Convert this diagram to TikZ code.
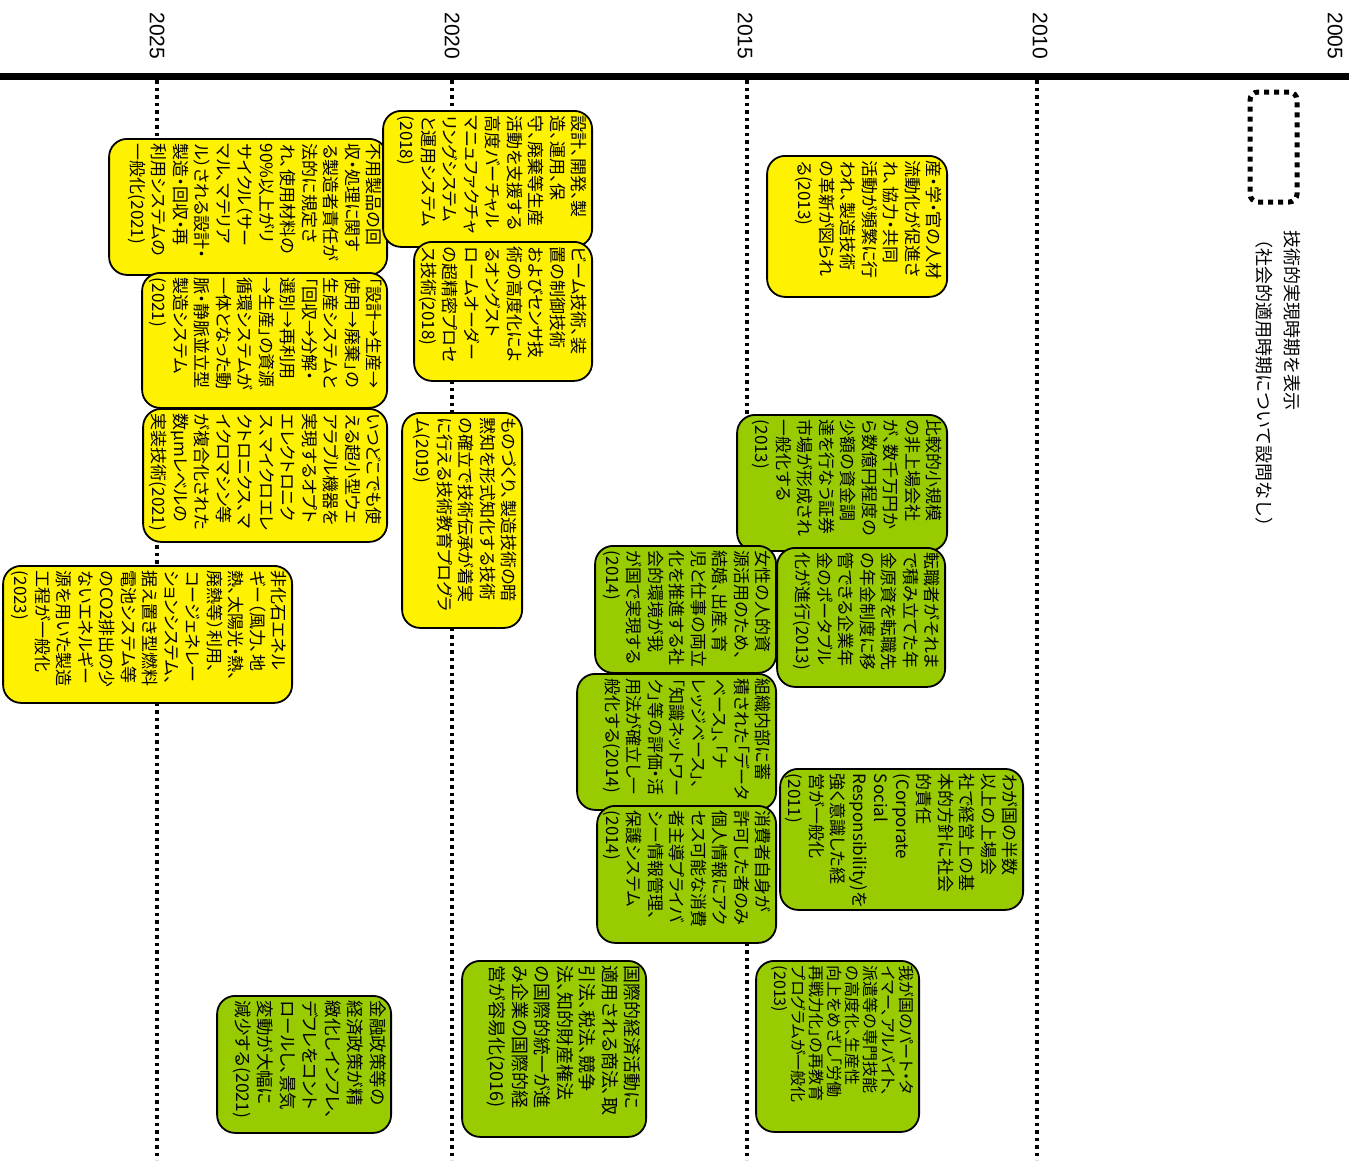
\documentclass[tikz,border=0pt]{standalone}
\usepackage{fontspec}
\newfontfamily\jp[RawFeature=+palt]{Noto Sans CJK JP}
\newfontfamily\jpw{Noto Sans CJK JP}
\newfontfamily\yrfont{Liberation Sans}
\definecolor{grn}{HTML}{99CC00}
\newcommand\mybox[7]{%
  \pgfmathsetmacro\mbW{#5-#3-11}%
  \pgfmathsetmacro\mbH{#6-#4-11}%
  \node[#2, anchor=north west] (#1) at (#5,#4)
    {\begin{minipage}[c][\mbW pt][t]{\mbH pt}\raggedright #7\end{minipage}};}
\begin{document}
\begin{tikzpicture}[x=1pt,y=-1pt,
  tbase/.style={draw=black, line width=1.8pt, rounded corners=18pt, rotate=-90,
    inner sep=5pt, font=\jp\fontsize{17}{21.5}\selectfont},
  ybox/.style={tbase, fill=yellow},
  gbox/.style={tbase, fill=grn},
  yearlbl/.style={rotate=-90, font=\yrfont\fontsize{21}{24}\selectfont, inner sep=0pt},
  yearline/.style={line width=3.5pt, dash pattern=on 3.5pt off 4pt},
  legendbox/.style={draw=black, line width=5pt, dash pattern=on 5pt off 5pt, rounded corners=8pt},
  legendtext/.style={rotate=-90, align=left, inner sep=0pt, font=\jpw\fontsize{18}{28}\selectfont}]
\useasboundingbox (0,0) rectangle (1349,1160);
\fill[white] (0,0) rectangle (1349,1160);

% timeline
\coordinate (tl0) at (0,76);
\coordinate (tl1) at (1349,76);
\draw[line width=7pt] (tl0) -- (tl1);

% year labels
\node[yearlbl] (y2025) at (157,36) {2025};
\node[yearlbl] (y2020) at (452,36) {2020};
\node[yearlbl] (y2015) at (745,36) {2015};
\node[yearlbl] (y2010) at (1040,36) {2010};
\node[yearlbl] (y2005) at (1335,36) {2005};

% dotted year lines
\coordinate (d25a) at (157,80);  \coordinate (d25b) at (157,1160);
\coordinate (d20a) at (452,80);  \coordinate (d20b) at (452,1160);
\coordinate (d15a) at (747,80);  \coordinate (d15b) at (747,1160);
\coordinate (d10a) at (1037,80); \coordinate (d10b) at (1037,1160);
\draw[yearline] (d25a) -- (d25b);
\draw[yearline] (d20a) -- (d20b);
\draw[yearline] (d15a) -- (d15b);
\draw[yearline] (d10a) -- (d10b);

% legend
\node[legendbox, minimum width=47pt, minimum height=110pt] (leg) at (1273.5,147) {};
\node[legendtext, anchor=north west] (legt) at (1301,230)
  {技術的実現時期を表示\\（社会的適用時期について設問なし）};

% yellow boxes
\mybox{yc}{ybox}{109}{138}{388}{275}{不用製品の回\\収・処理に関す\\る製造者責任が\\法的に規定さ\\れ、使用材料の\\90\%以上がリ\\サイクル（サー\\マル、マテリア\\ル）される設計・\\製造・回収・再\\利用システムの\\一般化(2021)}
\mybox{yd}{ybox}{142}{272}{388}{408}{「設計→生産→\\使用→廃棄」の\\生産システムと\\「回収→分解・\\選別→再利用\\→生産」の資源\\循環システムが\\一体となった動\\脈・静脈並立型\\製造システム\\(2021)}
\mybox{ye}{ybox}{143}{408}{388}{542}{いつどこでも使\\える超小型ウェ\\アラブル機器を\\実現するオプト\\エレクトロニク\\ス、マイクロエレ\\クトロニクス、マ\\イクロマシン等\\が複合化された\\数μmレベルの\\実装技術(2021)}
\mybox{ya}{ybox}{383}{110}{593}{247}{設計、開発、製\\造、運用、保\\守、廃棄等生産\\活動を支援する\\高度バーチャル\\マニュファクチャ\\リングシステム\\と運用システム\\(2018)}
\mybox{yb}{ybox}{414}{241}{593}{381}{ビーム技術、装\\置の制御技術\\およびセンサ技\\術の高度化によ\\るオングスト\\ロームオーダー\\の超精密プロセ\\ス技術(2018)}
\mybox{yf}{ybox}{402}{412}{523}{628}{ものづくり、製造技術の暗\\黙知を形式知化する技術\\の確立で技術伝承が着実\\に行える技術教育プログラ\\ム(2019)}
\mybox{yg}{ybox}{3}{565}{293}{703}{非化石エネル\\ギー（風力、地\\熱、太陽光・熱、\\廃熱等）利用、\\コージェネレー\\ションシステム、\\据え置き型燃料\\電池システム等\\のCO2排出の少\\ないエネルギー\\源を用いた製造\\工程が一般化\\(2023)}
\mybox{yh}{ybox}{767}{155}{948}{297}{産・学・官の人材\\流動化が促進さ\\れ、協力・共同\\活動が頻繁に行\\われ、製造技術\\の革新が図られ\\る(2013)}

% green boxes
\mybox{ga}{gbox}{737}{414}{948}{551}{比較的小規模\\の非上場会社\\が、数千万円か\\ら数億円程度の\\少額の資金調\\達を行なう証券\\市場が形成され\\一般化する\\(2013)}
\mybox{gb}{gbox}{777}{547}{946}{687}{転職者がそれま\\で積み立てた年\\金原資を転職先\\の年金制度に移\\管できる企業年\\金のポータブル\\化が進行(2013)}
\mybox{gc}{gbox}{595}{545}{777}{673}{女性の人的資\\源活用のため、\\結婚、出産、育\\児と仕事の両立\\化を推進する社\\会的環境が我\\が国で実現する\\(2014)}
\mybox{gd}{gbox}{577}{673}{777}{810}{組織内部に蓄\\積された「データ\\ベース」、「ナ\\レッジベース」、\\「知識ネットワー\\ク」等の評価・活\\用法が確立し一\\般化する(2014)}
\mybox{ge}{gbox}{597}{805}{777}{943}{消費者自身が\\許可した者のみ\\個人情報にアク\\セス可能な消費\\者主導プライバ\\シー情報管理、\\保護システム\\(2014)}
\mybox{gf}{gbox}{780}{768}{1024}{910}{わが国の半数\\以上の上場会\\社で経営上の基\\本的方針に社会\\的責任\\(Corporate\\Social\\Responsibility)を\\強く意識した経\\営が一般化\\(2011)}
\mybox{gg}{gbox, font=\jp\fontsize{18}{22.5}\selectfont}{462}{960}{647}{1137}{国際的経済活動に\\適用される商法、取\\引法、税法、競争\\法、知的財産権法\\の国際的統一が進\\み企業の国際的経\\営が容易化(2016)}
\mybox{gh}{gbox, font=\jp\fontsize{17.5}{22.5}\selectfont}{217}{995}{392}{1133}{金融政策等の\\経済政策が精\\緻化しインフレ、\\デフレをコント\\ロールし、景気\\変動が大幅に\\減少する(2021)}
\mybox{gi}{gbox, font=\jp\fontsize{16}{18}\selectfont}{756}{960}{920}{1132}{我が国のパート・タ\\イマー、アルバイト、\\派遣等の専門技能\\の高度化、生産性\\向上をめざし「労働\\再戦力化」の再教育\\プログラムが一般化\\(2013)}
\end{tikzpicture}
\end{document}
